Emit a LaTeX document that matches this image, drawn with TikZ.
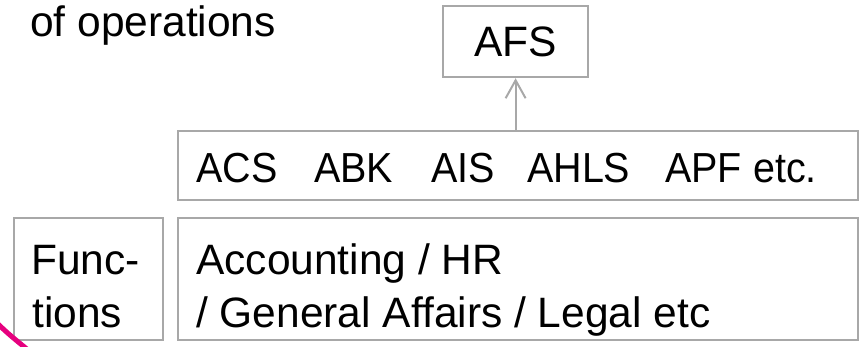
\documentclass[tikz,border=0pt]{standalone}
\usepackage{fontspec}
\setmainfont{Liberation Sans}
\usetikzlibrary{arrows.meta}
\definecolor{boxgray}{RGB}{168,168,168}
\definecolor{magentaline}{RGB}{230,0,126}
\newfontfamily\condfont[FakeStretch=0.94]{Liberation Sans}
\newcommand{\bigfont}{\condfont\fontsize{42}{53}\selectfont}
\newcommand{\largefont}{\fontsize{42.5}{53}\selectfont}
\begin{document}
\begin{tikzpicture}[x=1pt,y=-1pt,
  box/.style={draw=boxgray, line width=2.2pt, anchor=north west, inner sep=0pt},
  lbl/.style={anchor=base west, inner sep=0pt, font=\bigfont, text=black},
  lbll/.style={lbl, font=\largefont},
  conn/.style={draw=boxgray, line width=2pt, -{Straight Barb[length=18pt,width=20pt,line width=2pt]}},
]
\useasboundingbox (0,0) rectangle (866,346);
% boxes
\node[box, minimum width=145pt, minimum height=71pt, font=\largefont] (afs) at (442,5) {AFS};
\node[box, minimum width=680pt, minimum height=69pt] (acs) at (177,130) {};
\node[box, minimum width=149pt, minimum height=122pt] (fun) at (13,217) {};
\node[box, minimum width=680pt, minimum height=122pt] (acc) at (177,217) {};
% texts
\node[lbll] (ops) at (30,36) {of operations};
\node[lbl] (w1) at (196,182) {ACS};
\node[lbl] (w2) at (314,182) {ABK};
\node[lbl] (w3) at (431,182) {AIS};
\node[lbl] (w4) at (527,182) {AHLS};
\node[lbl] (w5) at (665,182) {APF};
\node[lbl] (w6) at (753,182) {etc.};
\node[lbll] (f1) at (31,274) {Func-};
\node[lbll] (f2) at (32,327) {tions};
\node[lbll] (a1) at (196,274) {Accounting / HR};
\node[lbll] (a2) at (196,327) {/ General Affairs / Legal etc};
% connector
\draw[conn] (afs.south |- acs.north) -- (afs.south);
% magenta stroke at the corner
\coordinate (m1) at (-4,322);
\coordinate (m2) at (28,350);
\draw[magentaline, line width=5pt] (m1) .. controls (8,334) and (16,340) .. (m2);
\end{tikzpicture}
\end{document}
